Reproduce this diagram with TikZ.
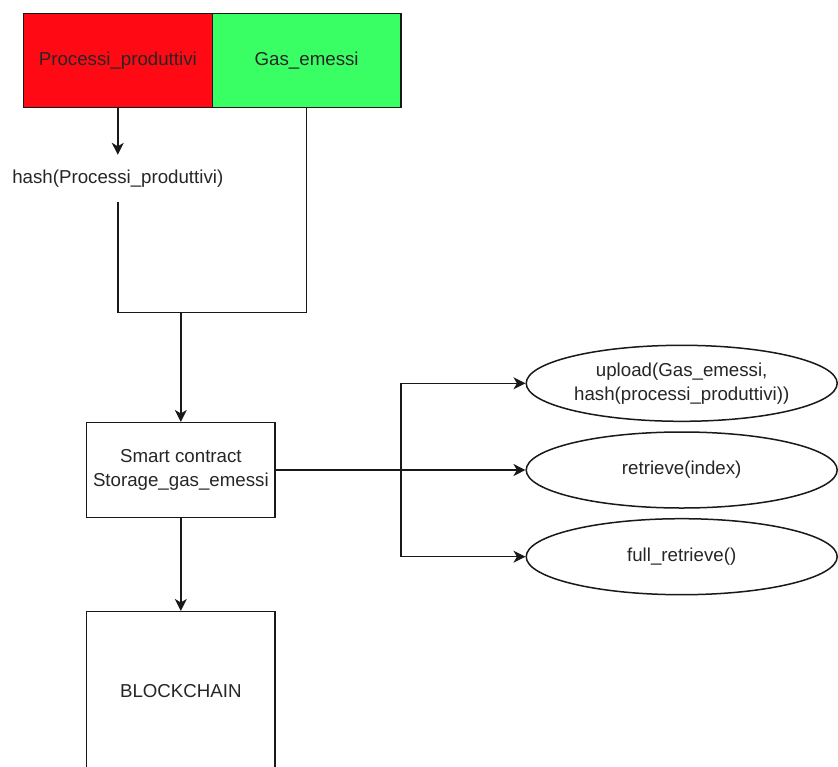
\documentclass[tikz,border=0pt]{standalone}
\usepackage{fontspec}
\setmainfont{Liberation Sans}
\usetikzlibrary{arrows.meta,shapes.geometric}
\definecolor{procred}{HTML}{FF0A14}
\definecolor{gasgreen}{HTML}{3AFF64}
\definecolor{txt}{HTML}{262626}
\begin{document}
\begin{tikzpicture}[x=1pt,y=-1pt,
  every node/.style={font=\fontsize{18.7}{24}\selectfont, text=txt, inner sep=0pt, align=center},
  box/.style={draw=black!90, line width=1.5pt, rectangle, minimum width=188.5pt, minimum height=94pt},
  oval/.style={draw=black!90, line width=1.5pt, ellipse, minimum width=311pt, minimum height=76pt},
  link/.style={draw=black!90, line width=1.5pt},
  arr/.style={link, -{Stealth[length=12pt,width=12pt,inset=3.5pt]}}]
\useasboundingbox (0,0) rectangle (838,766);
\fill[white] (0,0) rectangle (838,766);

% data sources
\node[box, fill=procred, minimum width=189pt] (proc) at (117.8,60.6) {Processi\_produttivi};
\node[box, fill=gasgreen, minimum width=188.7pt] (gas) at (306.65,60.6) {Gas\_emessi};

% hashing step
\node[minimum height=47pt] (hash) at (117.8,178.5) {hash(Processi\_produttivi)};
\draw[arr] (proc.south -| hash.north) -- (hash.north);

% merge of the two inputs
\coordinate (jl) at (117.8,312.7);
\coordinate (jm) at (180.85,312.7);
\coordinate (jr) at (306.65,312.7);
\draw[link] (hash.south) -- (jl) -- (jr) -- (gas.south);

% contract and chain (the chain box runs past the lower edge)
\node[box, minimum width=188.3pt, minimum height=94.6pt] (sc) at (180.85,470) {Smart contract\\Storage\_gas\_emessi};
\node[box, minimum width=188.3pt, minimum height=162pt] (bc) at (180.85,692.7) {\raisebox{3.5pt}{BLOCKCHAIN}};
\draw[arr] (jm) -- (sc.north);
\draw[arr] (sc.south) -- (bc.north);

% contract functions
\node[oval] (up) at (681.7,383.3) {upload(Gas\_emessi,\\hash(processi\_produttivi))};
\node[oval] (ret) at (681.7,470) {retrieve(index)};
\node[oval] (full) at (681.7,556.7) {full\_retrieve()};
\coordinate (bt) at (401,383.3);
\coordinate (bb) at (401,556.7);
\draw[arr] (sc.east) -- (ret.west);
\draw[arr] (bb) -- (bt) -- (up.west);
\draw[arr] (bb) -- (full.west);
\end{tikzpicture}
\end{document}
